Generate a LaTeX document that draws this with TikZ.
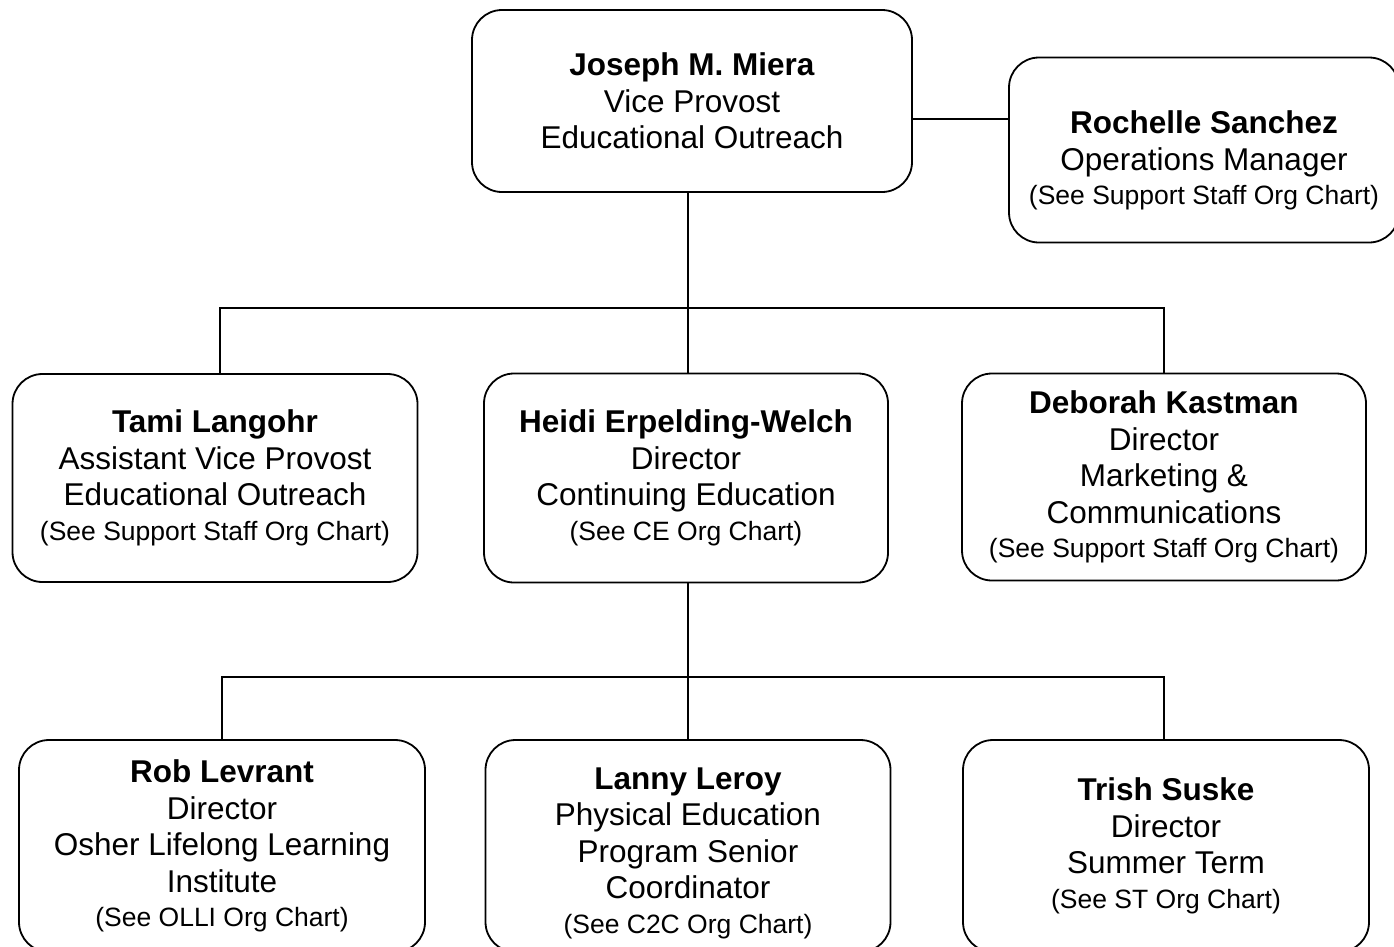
\documentclass[tikz,border=0pt]{standalone}
\usepackage{fontspec}
\setmainfont{Liberation Sans}
\newcommand{\seechart}[1]{{\fontsize{26.5}{31}\selectfont #1}}
\newcommand{\toppad}[1]{\rule{0pt}{#1}}
\tikzset{
  orgbox/.style={draw, black, line width=1.8pt, rounded corners=30pt, align=center,
    inner sep=0pt, font=\fontsize{31.5}{36.5}\selectfont},
  orgline/.style={black, line width=1.8pt}
}
\begin{document}
\begin{tikzpicture}[x=1pt,y=-1pt]
\useasboundingbox (0,0) rectangle (1394,946);
\node [orgbox, minimum width=440, minimum height=182] (miera) at (692,101)
  {\textbf{Joseph M. Miera}\\Vice Provost\\Educational Outreach};
\node [orgbox, minimum width=390, minimum height=185] (sanchez) at (1204,150)
  {\toppad{44pt}\textbf{Rochelle Sanchez}\\Operations Manager\\[-2pt]\seechart{(See Support Staff Org Chart)}};
\node [orgbox, minimum width=405, minimum height=208] (langohr) at (215,478)
  {\textbf{Tami Langohr}\\Assistant Vice Provost\\Educational Outreach\\[-2pt]\seechart{(See Support Staff Org Chart)}};
\node [orgbox, minimum width=404, minimum height=209] (erpelding) at (686,478)
  {\textbf{Heidi Erpelding-Welch}\\Director\\Continuing Education\\[-2pt]\seechart{(See CE Org Chart)}};
\node [orgbox, minimum width=404, minimum height=207] (kastman) at (1164,477)
  {\textbf{Deborah Kastman}\\Director\\Marketing \&\\Communications\\[-2pt]\seechart{(See Support Staff Org Chart)}};
\node [orgbox, minimum width=406, minimum height=212] (levrant) at (222,846)
  {\textbf{Rob Levrant}\\Director\\Osher Lifelong Learning\\Institute\\[-2pt]\seechart{(See OLLI Org Chart)}};
\node [orgbox, minimum width=405, minimum height=212] (leroy) at (688,846)
  {\toppad{36pt}\textbf{Lanny Leroy}\\Physical Education\\Program Senior\\Coordinator\\[-2pt]\seechart{(See C2C Org Chart)}};
\node [orgbox, minimum width=406, minimum height=212] (suske) at (1166,846)
  {\textbf{Trish Suske}\\Director\\Summer Term\\[-2pt]\seechart{(See ST Org Chart)}};
\coordinate (ops) at (960,119);
\coordinate (busa) at (688,308);
\coordinate (busb) at (688,677);
\draw [orgline] (miera.east |- ops) -- (sanchez.west |- ops);
\draw [orgline] (miera.south -| busa) -- (busa);
\draw [orgline] ([xshift=5pt]langohr.north) |- (busa) -| (kastman.north);
\draw [orgline] (busa) -- (erpelding.north -| busa);
\draw [orgline] (erpelding.south -| busb) -- (busb);
\draw [orgline] (levrant.north) |- (busb) -| ([xshift=-2pt]suske.north);
\draw [orgline] (busb) -- (leroy.north);
\end{tikzpicture}
\end{document}
